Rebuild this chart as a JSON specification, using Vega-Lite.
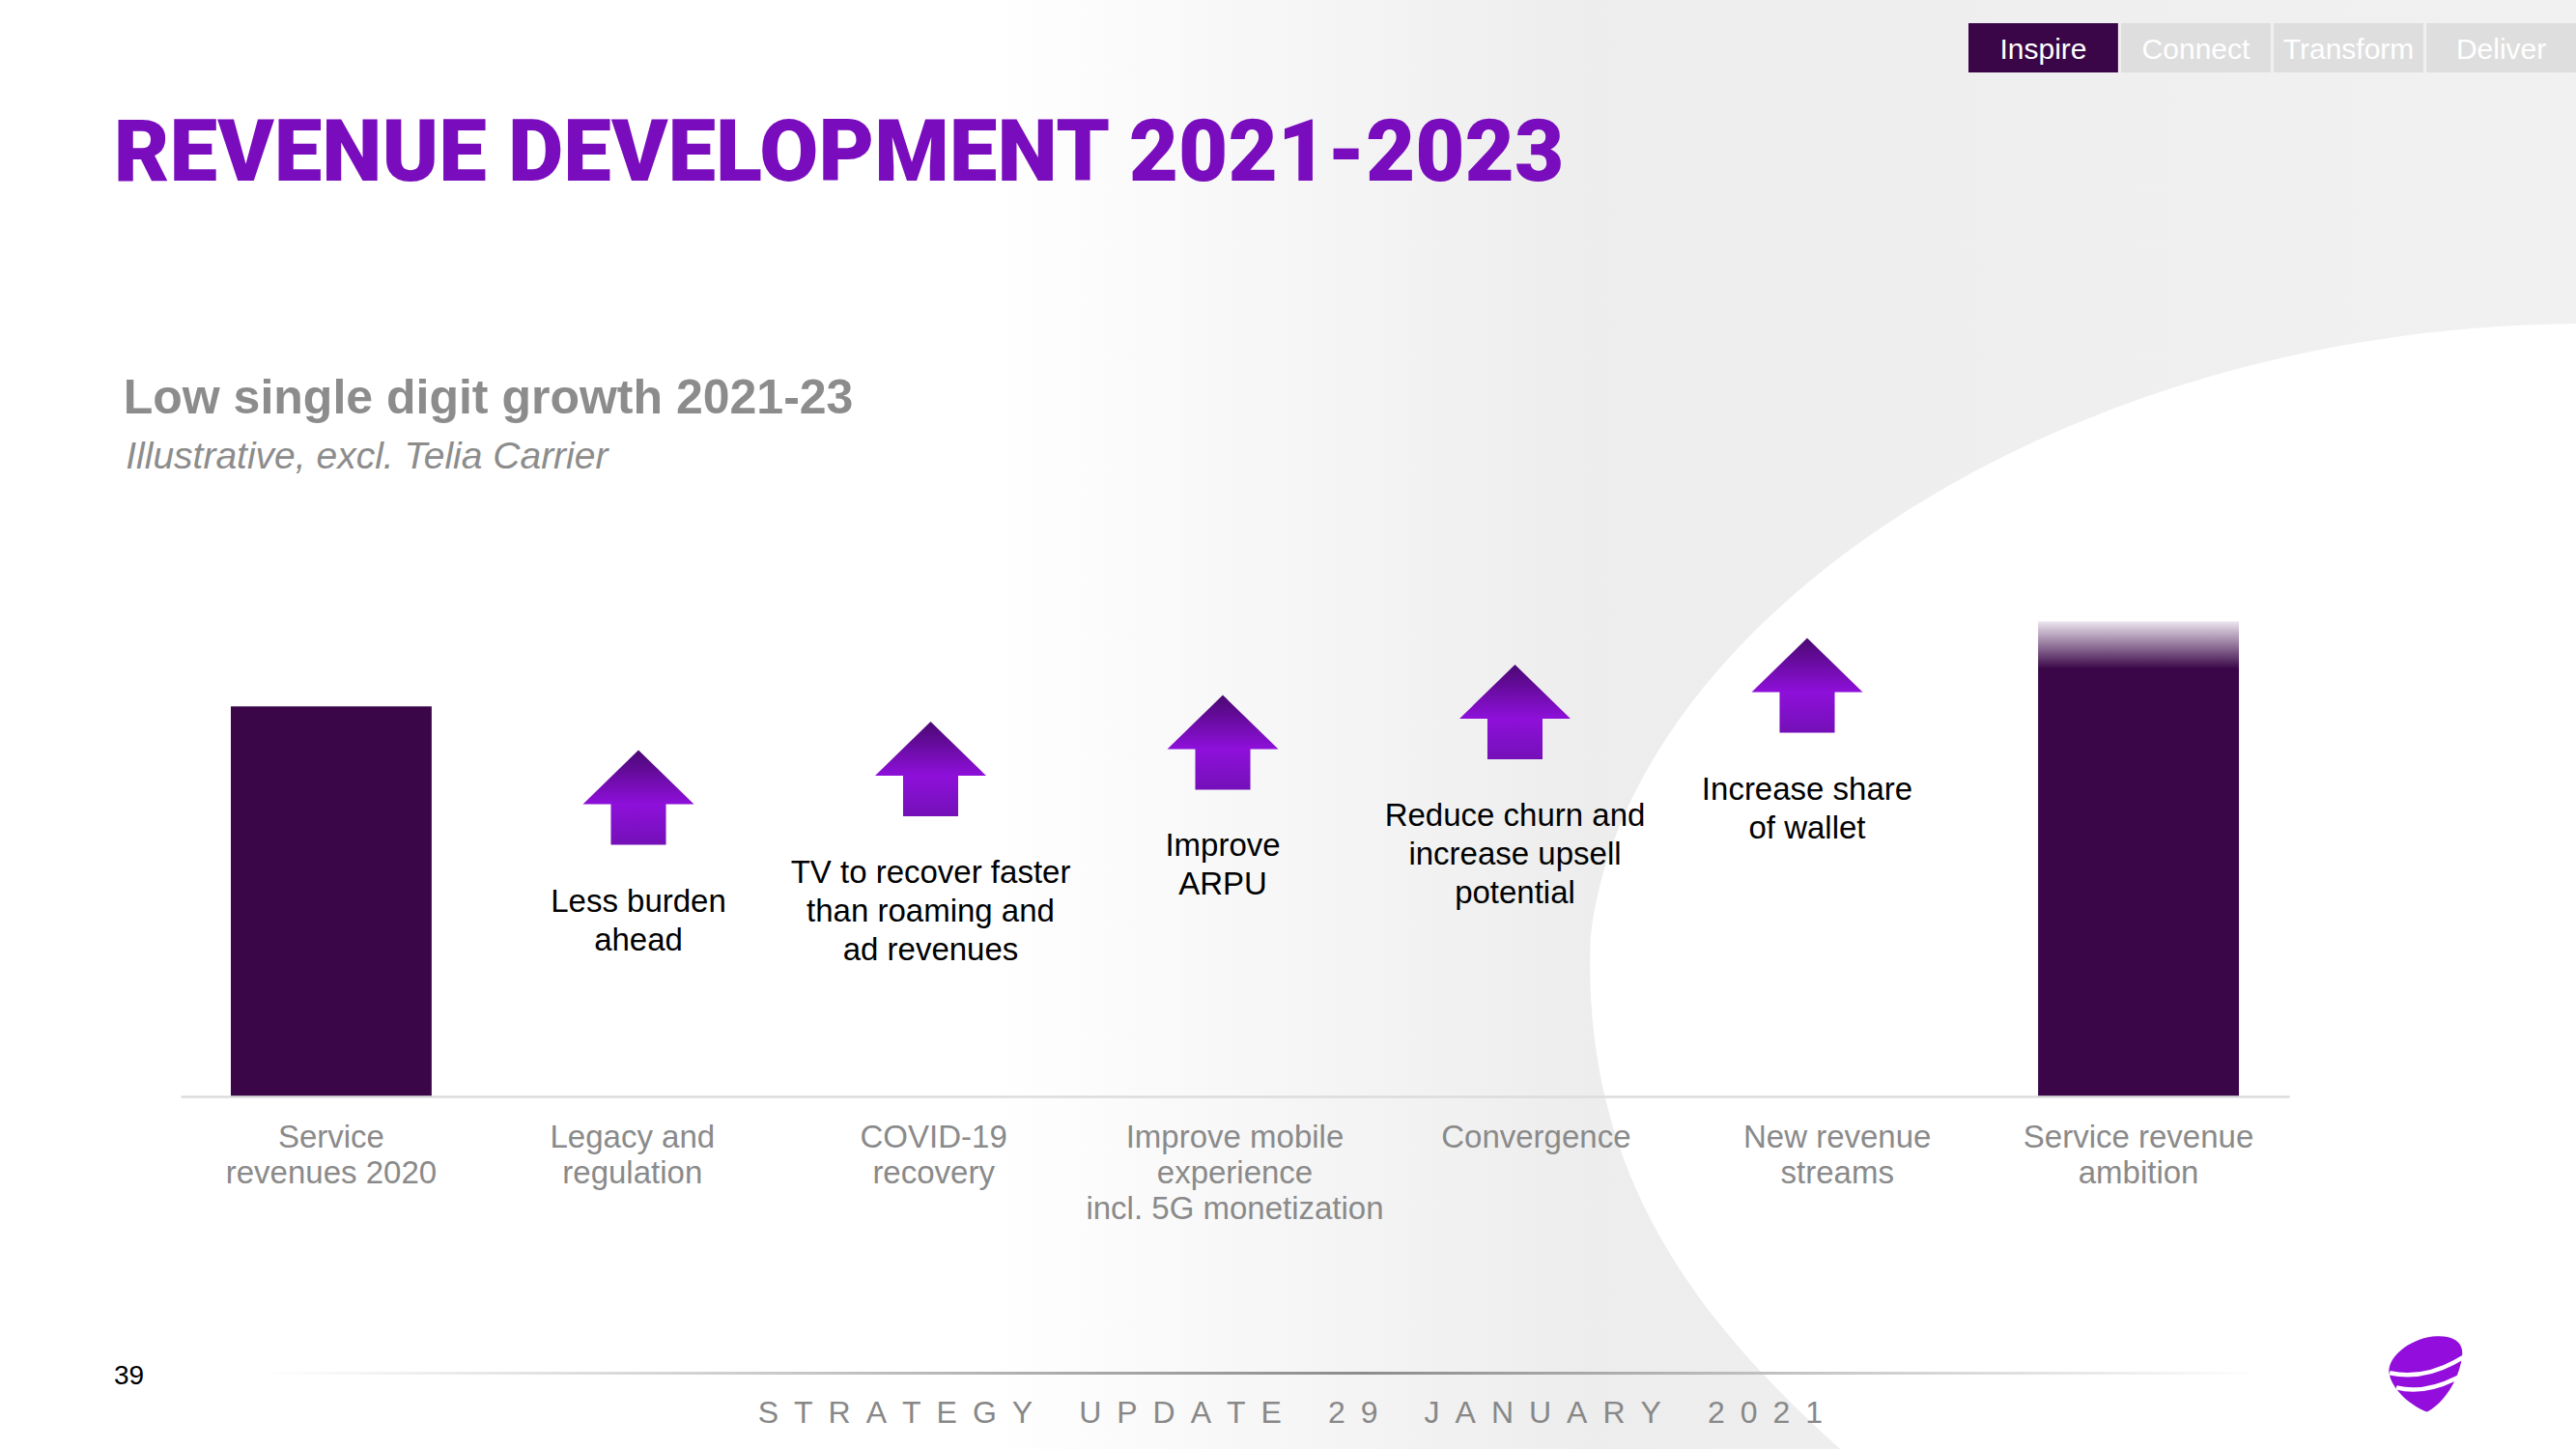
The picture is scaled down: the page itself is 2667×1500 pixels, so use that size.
{
  "$schema": "https://vega.github.io/schema/vega-lite/v6.json",
  "width": 2183,
  "height": 535,
  "autosize": {"type": "none"},
  "padding": {"left": 187, "top": 600, "right": 297, "bottom": 365},
  "background": "#ffffff",
  "config": {"view": {"stroke": null}, "font": "Liberation Sans"},
  "datasets": {
    "steps": [
      {"step": "Service\nrevenues 2020", "kind": "actual", "revenue": 100},
      {"step": "Legacy and\nregulation", "kind": "driver", "level": 76.65, "note": "Less burden\nahead"},
      {"step": "COVID-19\nrecovery", "kind": "driver", "level": 83.96, "note": "TV to recover faster\nthan roaming and\nad revenues"},
      {"step": "Improve mobile\nexperience\nincl. 5G monetization", "kind": "driver", "level": 90.77, "note": "Improve\nARPU"},
      {"step": "Convergence", "kind": "driver", "level": 98.57, "note": "Reduce churn and\nincrease upsell\npotential"},
      {"step": "New revenue\nstreams", "kind": "driver", "level": 105.38, "note": "Increase share\nof wallet"},
      {"step": "Service revenue\nambition", "kind": "ambition", "revenue": 121.8}
    ],
    "tabs": [
      {"tab": "Inspire", "current": "yes"},
      {"tab": "Connect", "current": "no"},
      {"tab": "Transform", "current": "no"},
      {"tab": "Deliver", "current": "no"}
    ]
  },
  "resolve": {"scale": {"x": "independent"}, "axis": {"x": "independent"}},
  "layer": [
    {
      "data": {"values": [{}]},
      "mark": {
        "type": "point", "filled": true, "opacity": 1, "strokeWidth": 0, "size": 2712609,
        "shape": "M-1,-0.911 L1,-0.911 L1,-0.504 C0.343,-0.498 -0.194,-0.126 -0.239,0.267 C-0.252,0.576 -0.09,0.762 0.075,0.911 L-1,0.911 Z",
        "fill": {"gradient": "linear", "x1": 0, "y1": 0, "x2": 1, "y2": 0,
          "stops": [{"offset": 0, "color": "#ffffff"}, {"offset": 0.38, "color": "#ededed"}, {"offset": 1, "color": "#f1f1f1"}]}
      },
      "encoding": {
        "x": {"datum": 5.312, "type": "quantitative", "scale": {"domain": [0, 7], "nice": false, "zero": false}, "axis": null},
        "y": {"datum": 95.35, "type": "quantitative", "scale": {"domain": [0, 132.5], "nice": false, "zero": false}, "axis": null}
      }
    },
    {
      "data": {"name": "steps"},
      "encoding": {
        "x": {
          "field": "step", "type": "nominal",
          "scale": {
            "domain": ["Service\nrevenues 2020", "Legacy and\nregulation", "COVID-19\nrecovery", "Improve mobile\nexperience\nincl. 5G monetization", "Convergence", "New revenue\nstreams", "Service revenue\nambition"],
            "paddingInner": 0.3333, "paddingOuter": 0.1667
          },
          "axis": {
            "title": null, "labelExpr": "split(datum.label, '\\n')", "zindex": 1,
            "labelFontSize": 33, "labelColor": "#8a8a8a", "labelFont": "Liberation Sans",
            "labelLineHeight": 37, "labelPadding": 26, "labelAngle": 0, "labelLimit": 500,
            "labelOverlap": false, "labelBaseline": "top",
            "ticks": false, "tickSize": 0, "grid": false,
            "domainColor": "#dcdcdc", "domainWidth": 2.5
          }
        }
      },
      "layer": [
        {
          "transform": [{"filter": "datum.kind == 'actual'"}],
          "mark": {"type": "bar", "color": "#3a0648"},
          "encoding": {
            "y": {"field": "revenue", "type": "quantitative", "scale": {"domain": [0, 132.5], "nice": false, "zero": false}, "axis": null}
          }
        },
        {
          "transform": [{"filter": "datum.kind == 'ambition'"}],
          "mark": {
            "type": "bar",
            "fill": {"gradient": "linear", "x1": 0, "y1": 0, "x2": 0, "y2": 1,
              "stops": [{"offset": 0, "color": "#ece6ee"}, {"offset": 0.1, "color": "#3a0648"}, {"offset": 1, "color": "#3a0648"}]}
          },
          "encoding": {
            "y": {"field": "revenue", "type": "quantitative", "scale": {"domain": [0, 132.5], "nice": false, "zero": false}, "axis": null}
          }
        }
      ]
    },
    {
      "data": {"name": "steps"},
      "transform": [{"filter": "datum.kind == 'driver'"}],
      "encoding": {
        "x": {
          "field": "step", "type": "nominal",
          "scale": {
            "type": "point", "range": [474, 1684], "padding": 0,
            "domain": ["Legacy and\nregulation", "COVID-19\nrecovery", "Improve mobile\nexperience\nincl. 5G monetization", "Convergence", "New revenue\nstreams"]
          },
          "axis": null
        }
      },
      "layer": [
        {
          "mark": {
            "type": "point", "filled": true, "opacity": 1, "strokeWidth": 0, "size": 13225,
            "shape": "M0,-0.852 L1,0.122 L0.496,0.122 L0.496,0.852 L-0.496,0.852 L-0.496,0.122 L-1,0.122 Z",
            "fill": {"gradient": "linear", "x1": 0, "y1": 0, "x2": 0, "y2": 1,
              "stops": [{"offset": 0, "color": "#4a0872"}, {"offset": 0.57, "color": "#8e10da"}, {"offset": 1, "color": "#7410b8"}]}
          },
          "encoding": {
            "y": {"field": "level", "type": "quantitative", "scale": {"domain": [0, 132.5], "nice": false, "zero": false}, "axis": null}
          }
        },
        {
          "mark": {"type": "text", "fontSize": 33, "lineHeight": 40, "lineBreak": "\n", "align": "center", "baseline": "alphabetic", "dy": 118, "color": "#000000", "font": "Liberation Sans"},
          "encoding": {
            "y": {"field": "level", "type": "quantitative", "scale": {"domain": [0, 132.5], "nice": false, "zero": false}, "axis": null},
            "text": {"field": "note"}
          }
        }
      ]
    },
    {
      "data": {"name": "tabs"},
      "encoding": {
        "x": {"field": "tab", "type": "nominal", "sort": null, "scale": {"range": [1851, 2480], "paddingInner": 0.02, "paddingOuter": 0}, "axis": null}
      },
      "layer": [
        {
          "mark": {"type": "bar"},
          "encoding": {
            "y": {"datum": 275.15, "type": "quantitative", "scale": {"domain": [0, 132.5], "nice": false, "zero": false}, "axis": null},
            "y2": {"datum": 262.52},
            "color": {"field": "current", "type": "nominal", "scale": {"domain": ["yes", "no"], "range": ["#3a0648", "#dedede"]}, "legend": null}
          }
        },
        {
          "mark": {"type": "text", "fontSize": 30, "color": "#ffffff", "align": "center", "baseline": "alphabetic", "font": "Liberation Sans"},
          "encoding": {
            "y": {"datum": 266.0, "type": "quantitative", "scale": {"domain": [0, 132.5], "nice": false, "zero": false}, "axis": null},
            "text": {"field": "tab"}
          }
        }
      ]
    },
    {
      "data": {"values": [{}]},
      "layer": [
        {
          "mark": {"type": "text", "text": "REVENUE DEVELOPMENT 2021-2023", "font": "Roboto", "fontWeight": 900, "fontSize": 88.6, "color": "#790dbd", "align": "left", "baseline": "alphabetic"},
          "encoding": {
            "x": {"datum": -0.222, "type": "quantitative", "scale": {"domain": [0, 7], "nice": false, "zero": false}, "axis": null},
            "y": {"datum": 234.86, "type": "quantitative", "scale": {"domain": [0, 132.5], "nice": false, "zero": false}, "axis": null}
          }
        },
        {
          "mark": {"type": "text", "text": "Low single digit growth 2021-23", "font": "Liberation Sans", "fontWeight": "bold", "fontSize": 50, "color": "#8c8c8c", "align": "left", "baseline": "alphabetic"},
          "encoding": {
            "x": {"datum": -0.19, "type": "quantitative", "scale": {"domain": [0, 7], "nice": false, "zero": false}, "axis": null},
            "y": {"datum": 175.03, "type": "quantitative", "scale": {"domain": [0, 132.5], "nice": false, "zero": false}, "axis": null}
          }
        },
        {
          "mark": {"type": "text", "text": "Illustrative, excl. Telia Carrier", "font": "Liberation Sans", "fontStyle": "italic", "fontSize": 39, "color": "#8c8c8c", "align": "left", "baseline": "alphabetic"},
          "encoding": {
            "x": {"datum": -0.182, "type": "quantitative", "scale": {"domain": [0, 7], "nice": false, "zero": false}, "axis": null},
            "y": {"datum": 160.98, "type": "quantitative", "scale": {"domain": [0, 132.5], "nice": false, "zero": false}, "axis": null}
          }
        },
        {
          "mark": {"type": "text", "text": "39", "font": "Liberation Sans", "fontSize": 28, "color": "#000000", "align": "left", "baseline": "alphabetic"},
          "encoding": {
            "x": {"datum": -0.2213, "type": "quantitative", "scale": {"domain": [0, 7], "nice": false, "zero": false}, "axis": null},
            "y": {"datum": -73.8, "type": "quantitative", "scale": {"domain": [0, 132.5], "nice": false, "zero": false}, "axis": null}
          }
        },
        {
          "mark": {
            "type": "bar",
            "fill": {"gradient": "linear", "x1": 0, "y1": 0, "x2": 1, "y2": 0,
              "stops": [{"offset": 0, "color": "#ffffff"}, {"offset": 0.55, "color": "#8c8c8c"}, {"offset": 1, "color": "#ffffff"}]}
          },
          "encoding": {
            "x": {"datum": 0.266, "type": "quantitative", "scale": {"domain": [0, 7], "nice": false, "zero": false}, "axis": null},
            "x2": {"datum": 6.907},
            "y": {"datum": -70.6, "type": "quantitative", "scale": {"domain": [0, 132.5], "nice": false, "zero": false}, "axis": null},
            "y2": {"datum": -71.3}
          }
        },
        {
          "mark": {"type": "text", "text": "S\u2002T\u2002R\u2002A\u2002T\u2002E\u2002G\u2002Y\u2002\u2002\u2002U\u2002P\u2002D\u2002A\u2002T\u2002E\u2002\u2002\u20022\u20029\u2002\u2002\u2002J\u2002A\u2002N\u2002U\u2002A\u2002R\u2002Y\u2002\u2002\u20022\u20020\u20022\u20021", "font": "Liberation Sans", "fontSize": 32, "color": "#888888", "align": "center", "baseline": "alphabetic"},
          "encoding": {
            "x": {"datum": 3.684, "type": "quantitative", "scale": {"domain": [0, 7], "nice": false, "zero": false}, "axis": null},
            "y": {"datum": -83.71, "type": "quantitative", "scale": {"domain": [0, 132.5], "nice": false, "zero": false}, "axis": null}
          }
        },
        {
          "mark": {
            "type": "point", "filled": true, "opacity": 1, "strokeWidth": 0, "size": 6400,
            "shape": "M-0.94,-0.05 C-0.95,-0.5 -0.3,-0.95 0.3,-0.97 C0.8,-0.99 1.0,-0.75 0.95,-0.45 C0.9,0.1 0.5,0.75 0.05,0.99 C-0.35,0.85 -0.9,0.4 -0.94,-0.05 Z",
            "fill": "#930ddc"
          },
          "encoding": {
            "x": {"datum": 7.452, "type": "quantitative", "scale": {"domain": [0, 7], "nice": false, "zero": false}, "axis": null},
            "y": {"datum": -71.08, "type": "quantitative", "scale": {"domain": [0, 132.5], "nice": false, "zero": false}, "axis": null}
          }
        },
        {
          "mark": {
            "type": "point", "filled": false, "opacity": 1, "strokeWidth": 4.5, "size": 6400, "stroke": "#ffffff",
            "shape": "M-0.92,-0.02 Q0,0.18 0.97,-0.42 M-0.75,0.36 Q0,0.55 0.88,0.08"
          },
          "encoding": {
            "x": {"datum": 7.452, "type": "quantitative", "scale": {"domain": [0, 7], "nice": false, "zero": false}, "axis": null},
            "y": {"datum": -71.08, "type": "quantitative", "scale": {"domain": [0, 132.5], "nice": false, "zero": false}, "axis": null}
          }
        }
      ]
    }
  ]
}
